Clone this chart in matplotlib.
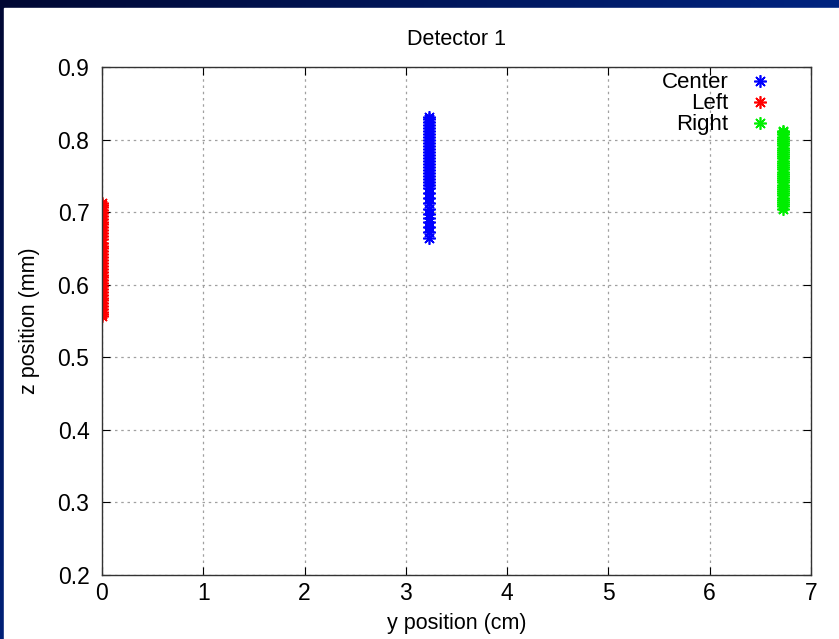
import numpy as np
import matplotlib.pyplot as plt
from matplotlib.patches import Rectangle

# =========================
# DATA
# =========================
center_y = 3.23
center_z = [0.665, 0.672, 0.679, 0.686, 0.692, 0.698, 0.705, 0.712, 0.719, 0.726,
            0.733, 0.738, 0.742, 0.746, 0.750, 0.754, 0.758, 0.762, 0.766, 0.770,
            0.775, 0.779, 0.783, 0.787, 0.791, 0.795, 0.799, 0.803, 0.808, 0.812,
            0.816, 0.820, 0.824, 0.828, 0.831]

left_y = 0.0
left_z = [0.557, 0.560, 0.563, 0.567, 0.571, 0.575, 0.579, 0.582, 0.586, 0.590,
          0.594, 0.598, 0.602, 0.606, 0.610, 0.614, 0.618, 0.622, 0.626, 0.630,
          0.634, 0.638, 0.642, 0.646, 0.650, 0.654, 0.658, 0.663, 0.667, 0.671,
          0.675, 0.679, 0.683, 0.687, 0.691, 0.695, 0.699, 0.703, 0.707, 0.710,
          0.713]

right_y = 6.72
right_z = [0.705, 0.708, 0.711, 0.714, 0.717, 0.720, 0.723, 0.726, 0.729, 0.732,
           0.735, 0.738, 0.741, 0.744, 0.747, 0.750, 0.753, 0.756, 0.759, 0.762,
           0.765, 0.768, 0.771, 0.774, 0.777, 0.780, 0.783, 0.786, 0.789, 0.792,
           0.795, 0.798, 0.801, 0.804, 0.807, 0.810, 0.812]

series = [("Center", center_y, center_z, "#0000ff"),
          ("Left", left_y, left_z, "#ff0000"),
          ("Right", right_y, right_z, "#00ee00")]

plt.rcParams['font.family'] = ['Liberation Sans', 'DejaVu Sans']

fig = plt.figure(figsize=(8.39, 6.39), dpi=100)

# slide-style blue frame behind the white plot area
bg = fig.add_axes([0, 0, 1, 1])
gx, gy = np.meshgrid(np.linspace(0, 1, 200), np.linspace(0, 1, 200))
t = np.clip(gx + gy * 0.9, 0, 1)[..., None]
dark = np.array([0.0, 0.03, 0.2])
blue = np.array([0.0, 0.14, 0.5])
bg.imshow(dark + t * (blue - dark), extent=[0, 1, 0, 1], origin='upper', aspect='auto')
bg.add_patch(Rectangle((4 / 839, 0), 1, 1 - 8 / 639, color='white', transform=bg.transAxes))
bg.set_xlim(0, 1)
bg.set_ylim(0, 1)
bg.axis('off')

ax = fig.add_axes([102 / 839, 64 / 639, 709 / 839, 508 / 639])
asterisk = (8, 2, 0)
for name, y, z, color in series:
    ax.plot([y] * len(z), z, linestyle='none', marker=asterisk, ms=9,
            mew=1.2, color=color, label=name)

ax.set_xlim(0, 7)
ax.set_ylim(0.2, 0.9)
ax.set_xticks(range(0, 8))
ax.set_yticks(np.arange(0.2, 0.91, 0.1))
ax.yaxis.set_major_formatter(plt.FormatStrFormatter('%.1f'))
ax.tick_params(direction='in', length=6, top=True, right=True, labelsize=16.5)
ax.tick_params(axis='y', pad=9)
ax.tick_params(axis='x', pad=5)
ax.grid(True, color='#a0a0a0', linestyle=(0, (2, 3)), linewidth=0.9)
for s in ax.spines.values():
    s.set_linewidth(1.0)
    s.set_color('#333333')

ax.set_title("Detector 1", fontsize=15.5, pad=16)
ax.set_xlabel("y position (cm)", fontsize=15.5, labelpad=6)
ax.set_ylabel("z position (mm)", fontsize=15.5, labelpad=13)

ax.legend(loc='upper right', frameon=False, markerfirst=False, fontsize=16,
          handlelength=1.0, handletextpad=0.9, labelspacing=0.0,
          borderaxespad=0.0, bbox_to_anchor=(0.956, 1.007))

fig.savefig("out.png", dpi=100)
